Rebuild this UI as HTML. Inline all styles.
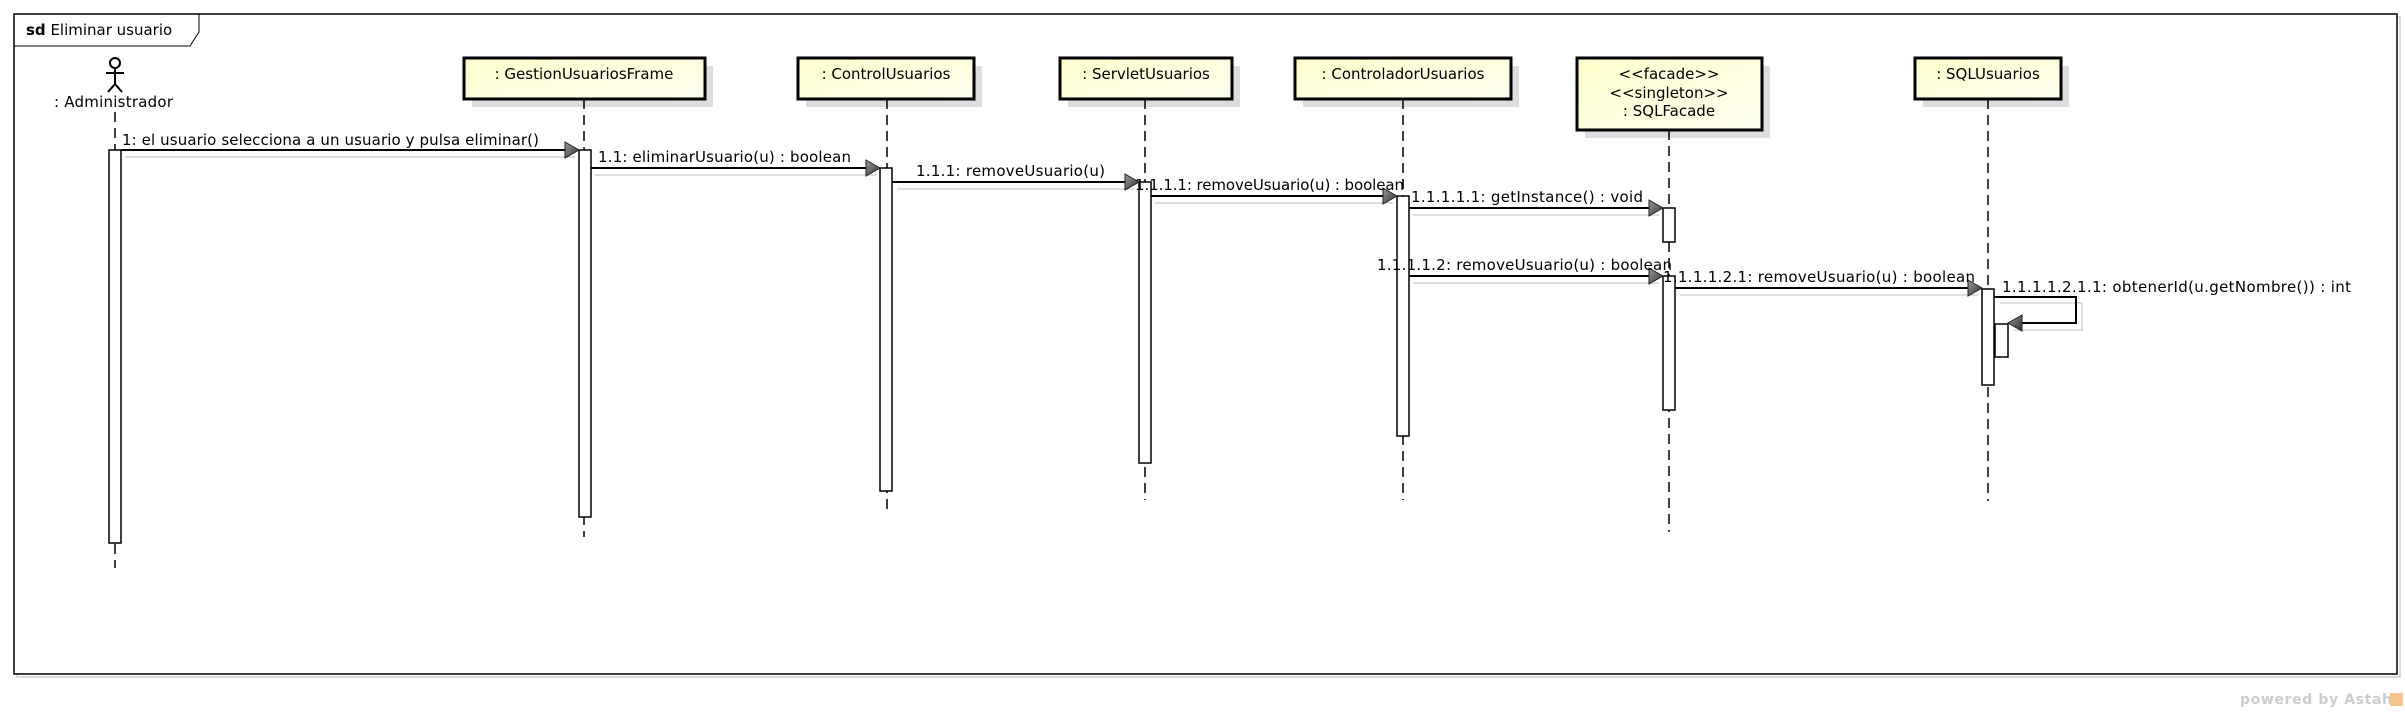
<!DOCTYPE html>
<html><head><meta charset="utf-8"><style>
html,body{margin:0;padding:0;background:#fff;}
svg{display:block;}
text{font-family:"DejaVu Sans","Liberation Sans",sans-serif;fill:#000;}
</style></head><body>
<svg width="2405" height="712" viewBox="0 0 2405 712" xmlns="http://www.w3.org/2000/svg">
<defs>
<linearGradient id="g" x1="0" y1="0" x2="1" y2="1">
<stop offset="0" stop-color="#ffffcc"/><stop offset="1" stop-color="#fdfdf0"/>
</linearGradient>
<linearGradient id="ag" x1="0" y1="0" x2="1" y2="1">
<stop offset="0" stop-color="#999"/><stop offset="1" stop-color="#333"/>
</linearGradient>
</defs>
<rect x="17" y="17" width="2383" height="660" fill="none" stroke="#ddd" stroke-width="2"/>
<rect x="14" y="14" width="2383" height="660" fill="#fff" stroke="#000" stroke-width="1.5"/>
<path d="M14 46 H190 L199 32 V14" fill="none" stroke="#000" stroke-width="1"/>
<text x="26" y="35" font-size="15"><tspan font-weight="bold">sd</tspan> Eliminar usuario</text>

<g stroke="#000" stroke-width="2" fill="none">
<circle cx="115" cy="63" r="5"/>
<line x1="115" y1="68" x2="115" y2="84"/>
<line x1="106" y1="73" x2="124" y2="73"/>
<line x1="115" y1="84" x2="108" y2="92"/>
<line x1="115" y1="84" x2="122" y2="92"/>
</g>
<text x="54" y="107" font-size="15" textLength="119">: Administrador</text>

<g fill="#ddd">
<rect x="472" y="66" width="241" height="41"/>
<rect x="806" y="66" width="176" height="41"/>
<rect x="1068" y="66" width="172" height="41"/>
<rect x="1303" y="66" width="216" height="41"/>
<rect x="1585" y="66" width="185" height="72"/>
<rect x="1923" y="66" width="146" height="41"/>
</g>
<g fill="url(#g)" stroke="#000" stroke-width="3">
<rect x="464" y="58" width="241" height="41"/>
<rect x="798" y="58" width="176" height="41"/>
<rect x="1060" y="58" width="172" height="41"/>
<rect x="1295" y="58" width="216" height="41"/>
<rect x="1577" y="58" width="185" height="72"/>
<rect x="1915" y="58" width="146" height="41"/>
</g>
<g font-size="15" text-anchor="middle">
<text x="584" y="79">:   GestionUsuariosFrame</text>
<text x="886" y="79">: ControlUsuarios</text>
<text x="1146" y="79">: ServletUsuarios</text>
<text x="1403" y="79">: ControladorUsuarios</text>
<text x="1669" y="79">&lt;&lt;facade&gt;&gt;</text>
<text x="1669" y="98">&lt;&lt;singleton&gt;&gt;</text>
<text x="1669" y="116">: SQLFacade</text>
<text x="1988" y="79">: SQLUsuarios</text>
</g>

<g stroke="#000" stroke-width="1.5" stroke-dasharray="10,6">
<line x1="115" y1="112" x2="115" y2="568"/>
<line x1="584" y1="99" x2="584" y2="537"/>
<line x1="887" y1="99" x2="887" y2="511"/>
<line x1="1145" y1="99" x2="1145" y2="500"/>
<line x1="1403" y1="99" x2="1403" y2="500"/>
<line x1="1669" y1="130" x2="1669" y2="532"/>
<line x1="1988" y1="99" x2="1988" y2="501"/>
</g>

<g stroke="#ddd" stroke-width="2" fill="none">
<line x1="125" y1="157" x2="575" y2="157"/>
<line x1="595" y1="175" x2="876" y2="175"/>
<line x1="897" y1="189" x2="1134" y2="189"/>
<line x1="1155" y1="203" x2="1393" y2="203"/>
<line x1="1413" y1="215" x2="1659" y2="215"/>
<line x1="1413" y1="283" x2="1659" y2="283"/>
<line x1="1680" y1="295" x2="1978" y2="295"/>
<path d="M2000 303 H2082 V330 H2014"/>
</g>

<g fill="#fff" stroke="#000" stroke-width="1.5">
<rect x="109" y="150" width="12" height="393"/>
<rect x="579" y="150" width="12" height="367"/>
<rect x="880" y="168" width="12" height="323"/>
<rect x="1139" y="182" width="12" height="281"/>
<rect x="1397" y="196" width="12" height="240"/>
<rect x="1663" y="208" width="12" height="34"/>
<rect x="1663" y="276" width="12" height="134"/>
<rect x="1982" y="289" width="12" height="96"/>
<rect x="1995" y="324" width="13" height="33"/>
</g>

<g stroke="#000" stroke-width="2" fill="none">
<line x1="121" y1="150" x2="565" y2="150"/>
<line x1="591" y1="168" x2="866" y2="168"/>
<line x1="892" y1="182" x2="1125" y2="182"/>
<line x1="1151" y1="196" x2="1383" y2="196"/>
<line x1="1409" y1="208" x2="1649" y2="208"/>
<line x1="1409" y1="276" x2="1649" y2="276"/>
<line x1="1675" y1="288" x2="1968" y2="288"/>
<path d="M1994 297 H2076 V323 H2022"/>
</g>
<g fill="url(#ag)" stroke="#222" stroke-width="1">
<path d="M565 142 L579 150 L565 158 Z"/>
<path d="M866 160 L880 168 L866 176 Z"/>
<path d="M1125 174 L1139 182 L1125 190 Z"/>
<path d="M1383 188 L1397 196 L1383 204 Z"/>
<path d="M1649 200 L1663 208 L1649 216 Z"/>
<path d="M1649 268 L1663 276 L1649 284 Z"/>
<path d="M1968 280 L1982 288 L1968 296 Z"/>
<path d="M2022 315 L2008 323 L2022 331 Z"/>
</g>

<g font-size="15">
<text x="122" y="145" textLength="417">1: el usuario selecciona a un usuario y pulsa eliminar()</text>
<text x="598" y="162" textLength="253">1.1: eliminarUsuario(u) : boolean</text>
<text x="916" y="176" textLength="189">1.1.1: removeUsuario(u)</text>
<text x="1135" y="190" textLength="269">1.1.1.1: removeUsuario(u) : boolean</text>
<text x="1411" y="202" textLength="232">1.1.1.1.1: getInstance() : void</text>
<text x="1377" y="270" textLength="295">1.1.1.1.2: removeUsuario(u) : boolean</text>
<text x="1663" y="282" textLength="312">1.1.1.1.2.1: removeUsuario(u) : boolean</text>
<text x="2002" y="292" textLength="349">1.1.1.1.2.1.1: obtenerId(u.getNombre()) : int</text>
</g>

<text x="2240" y="704" font-size="14" font-weight="bold" style="fill:#ccc" textLength="152">powered by Astah</text>
<rect x="2390" y="693" width="13" height="13" fill="#f4c48a"/>
</svg>
</body></html>
